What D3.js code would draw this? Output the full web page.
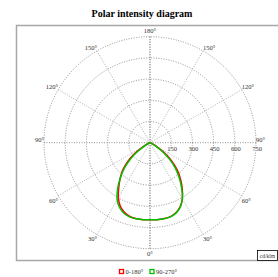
<!DOCTYPE html>
<html>
<head>
<meta charset="utf-8">
<script src="https://cdn.jsdelivr.net/npm/d3@7"></script>
<style>
  body { margin: 0; background: #fff; }
  svg { display: block; font-family: 'Liberation Serif', 'Times New Roman', serif; }
</style>
</head>
<body>
<svg id="chart" width="278" height="277"></svg>
<script>
// gamma angles (0 = straight down) and intensities in cd/klm
const angles = [0, 5, 10, 15, 20, 25, 30, 35, 40, 45, 50, 55, 60, 65, 70, 75, 80, 85, 90];
const c0   = [546, 547, 547, 543, 529, 502, 458, 398, 335, 272, 200, 122, 55, 20, 7, 3, 1, 0, 0];
const c180 = [546, 547, 546, 541, 525, 497, 448, 385, 328, 272, 205, 128, 58, 20, 7, 3, 1, 0, 0];
const c90  = [546, 547, 547, 545, 532, 505, 458, 390, 320, 252, 178, 100, 38, 12, 4, 2, 1, 0, 0];
const c270 = [546, 547, 547, 545, 533, 508, 465, 400, 328, 258, 182, 103, 40, 13, 4, 2, 1, 0, 0];
const ringTicks = [150, 300, 450, 600, 750];
const spokeAngles = [0, 30, 60, 90, 120, 150, 180];
const legendItems = [{ name: '0-180°', color: '#ff0000' }, { name: '90-270°', color: '#00c000' }];

const svg = d3.select('#chart');
const cx = 150, cy = 142.7, R = 106;

const r = d3.scaleLinear().domain([0, 750]).range([0, R]);

// frame
svg.append('rect')
  .attr('x', 16.5).attr('y', 25.5)
  .attr('width', 270).attr('height', 235)
  .attr('fill', 'none')
  .attr('stroke', '#a8a8a8')
  .attr('stroke-width', 1.5);

svg.append('text')
  .attr('x', 142).attr('y', 17)
  .attr('text-anchor', 'middle')
  .attr('font-weight', 'bold')
  .attr('font-size', 10)
  .text('Polar intensity diagram');

const g = svg.append('g').attr('transform', `translate(${cx},${cy})`);

// rings
g.selectAll('circle.ring')
  .data(ringTicks)
  .enter().append('circle')
  .attr('class', 'ring')
  .attr('r', d => r(d))
  .attr('fill', 'none')
  .attr('stroke', '#777')
  .attr('stroke-width', 0.8)
  .attr('stroke-dasharray', '1,1.5');

// spokes, both sides
const toXY = (gamma, side, rad) => {
  const a = gamma * Math.PI / 180;
  return [side * rad * Math.sin(a), rad * Math.cos(a)];
};
[1, -1].forEach(side => {
  g.selectAll(null)
    .data(spokeAngles)
    .enter().append('line')
    .attr('x1', 0).attr('y1', 0)
    .attr('x2', d => toXY(d, side, R)[0])
    .attr('y2', d => toXY(d, side, R)[1])
    .attr('stroke', d => d === 90 || d === 0 || d === 180 ? '#777' : '#999')
    .attr('stroke-width', 0.8)
    .attr('stroke-dasharray', '1,1.5');

  g.selectAll(null)
    .data(spokeAngles.filter(d => side === 1 || (d !== 0 && d !== 180)))
    .enter().append('text')
    .attr('x', d => toXY(d, side, R)[0])
    .attr('y', d => {
      const y = toXY(d, side, R)[1];
      if (d === 180) return y - 4;
      if (d < 90) return y + 7;
      return y - 1;
    })
    .attr('text-anchor', d => d === 0 || d === 180 ? 'middle' : (side === 1 ? 'start' : 'end'))
    .attr('font-size', 6.5)
    .attr('fill', '#333')
    .text(d => d + '°');
});

// ring labels
g.selectAll('text.tick')
  .data(ringTicks)
  .enter().append('text')
  .attr('class', 'tick')
  .attr('x', d => r(d) + 1)
  .attr('y', 8)
  .attr('text-anchor', 'middle')
  .attr('font-size', 6.5)
  .attr('fill', '#333')
  .text(d => d);

// intensity curves: left arm from 90 down to 0 then right arm 0 up to 90
const line = d3.lineRadial()
  .angle(d => d[0])
  .radius(d => r(d[1]))
  .curve(d3.curveCatmullRom);

function curvePoints(right, left) {
  const pts = [];
  for (let i = angles.length - 1; i >= 0; i--) {
    pts.push([Math.PI + angles[i] * Math.PI / 180, left[i]]);
  }
  for (let i = 1; i < angles.length; i++) {
    pts.push([Math.PI - angles[i] * Math.PI / 180, right[i]]);
  }
  return pts;
}

g.append('path')
  .attr('d', line(curvePoints(c0, c180)))
  .attr('fill', 'none')
  .attr('stroke', legendItems[0].color)
  .attr('stroke-width', 1.5);

g.append('path')
  .attr('d', line(curvePoints(c90, c270)))
  .attr('fill', 'none')
  .attr('stroke', legendItems[1].color)
  .attr('stroke-width', 1.5);

// unit box
svg.append('rect')
  .attr('x', 257.5).attr('y', 250.5)
  .attr('width', 20).attr('height', 10)
  .attr('fill', '#fff')
  .attr('stroke', '#000')
  .attr('stroke-width', 0.8);
svg.append('text')
  .attr('x', 267.5).attr('y', 257.5)
  .attr('text-anchor', 'middle')
  .attr('font-size', 5.5)
  .attr('fill', '#333')
  .text('cd/klm');

// legend
const lg = svg.selectAll('g.legend')
  .data(legendItems)
  .enter().append('g')
  .attr('class', 'legend')
  .attr('transform', (d, i) => `translate(${119.5 + i * 30.5},269.5)`);
lg.append('rect')
  .attr('width', 4).attr('height', 4)
  .attr('fill', '#fff')
  .attr('stroke', d => d.color)
  .attr('stroke-width', 1.3);
lg.append('text')
  .attr('x', 6).attr('y', 4.5)
  .attr('font-size', 6.5)
  .attr('fill', '#333')
  .text(d => d.name);
</script>
</body>
</html>
